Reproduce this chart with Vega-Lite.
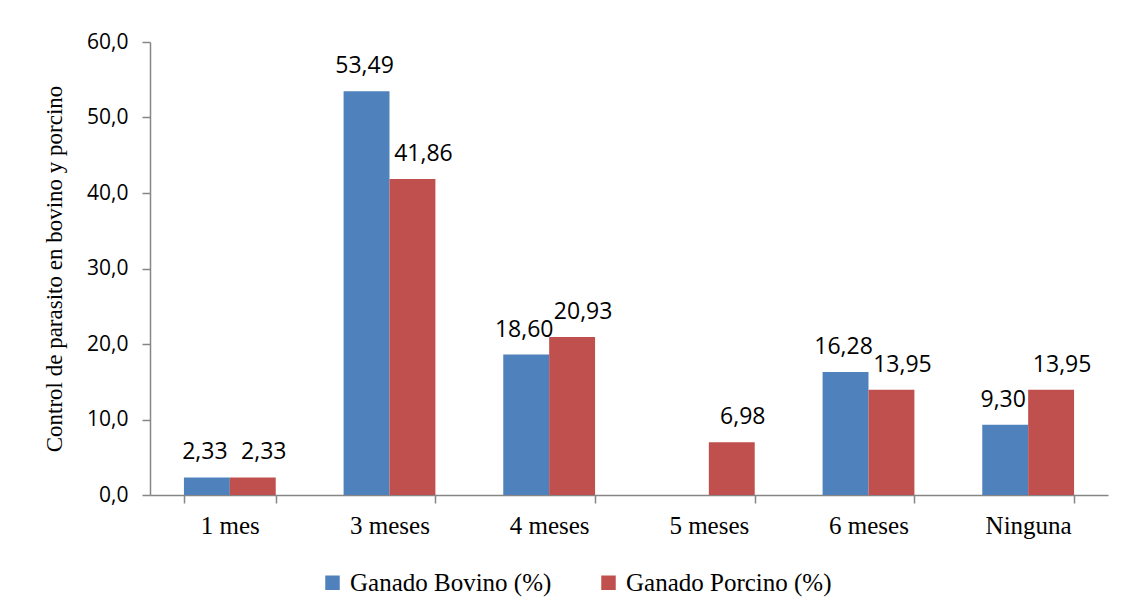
{
  "$schema": "https://vega.github.io/schema/vega-lite/v6.json",
  "autosize": {"type": "none"},
  "padding": {"left": 150, "top": 42, "right": 18, "bottom": 116},
  "width": 958,
  "height": 453,
  "background": "white",
  "config": {
    "view": {"stroke": null},
    "locale": {"number": {"decimal": ",", "thousands": ".", "grouping": [3], "currency": ["", ""]}},
    "axis": {"grid": false, "domainColor": "#868686", "tickColor": "#868686", "domainWidth": 1.5, "tickWidth": 1.5, "tickSize": 8, "labelColor": "black", "titleColor": "black"}
  },
  "data": {
    "values": [
      {"cat": "1 mes", "serie": "Ganado Bovino (%)", "valor": 2.33},
      {"cat": "1 mes", "serie": "Ganado Porcino (%)", "valor": 2.33},
      {"cat": "3 meses", "serie": "Ganado Bovino (%)", "valor": 53.49},
      {"cat": "3 meses", "serie": "Ganado Porcino (%)", "valor": 41.86},
      {"cat": "4 meses", "serie": "Ganado Bovino (%)", "valor": 18.60},
      {"cat": "4 meses", "serie": "Ganado Porcino (%)", "valor": 20.93},
      {"cat": "5 meses", "serie": "Ganado Bovino (%)", "valor": 0},
      {"cat": "5 meses", "serie": "Ganado Porcino (%)", "valor": 6.98},
      {"cat": "6 meses", "serie": "Ganado Bovino (%)", "valor": 16.28},
      {"cat": "6 meses", "serie": "Ganado Porcino (%)", "valor": 13.95},
      {"cat": "Ninguna", "serie": "Ganado Bovino (%)", "valor": 9.30},
      {"cat": "Ninguna", "serie": "Ganado Porcino (%)", "valor": 13.95}
    ]
  },
  "encoding": {
    "x": {
      "field": "cat", "type": "nominal", "sort": null,
      "scale": {"paddingInner": 0.425, "paddingOuter": 0.2125},
      "axis": {"title": null, "labelAngle": 0, "labelFont": "Liberation Serif", "labelFontSize": 25, "labelPadding": 10, "tickBand": "extent"}
    },
    "xOffset": {"field": "serie", "type": "nominal", "scale": {"paddingInner": 0, "paddingOuter": 0}},
    "y": {
      "field": "valor", "type": "quantitative",
      "scale": {"domain": [0, 60], "nice": false},
      "axis": {"values": [0, 10, 20, 30, 40, 50, 60], "format": ".1f", "labelFont": "Open Sans", "labelFontSize": 21, "labelPadding": 14,
        "title": "Control de parasito en  bovino y porcino", "titleFont": "Liberation Serif", "titleFontSize": 23, "titleFontWeight": "normal", "titlePadding": 20}
    }
  },
  "layer": [
    {
      "mark": {"type": "bar"},
      "encoding": {
        "color": {
          "field": "serie", "type": "nominal",
          "scale": {"range": ["#4F81BD", "#C0504D"]},
          "legend": {"title": null, "orient": "none", "legendX": 170, "legendY": 528, "direction": "horizontal",
            "symbolType": "square", "symbolSize": 210, "symbolStrokeWidth": 0, "labelFont": "Liberation Serif", "labelFontSize": 25, "labelColor": "black", "labelLimit": 400, "columnPadding": 44, "labelOffset": 5}
        }
      }
    },
    {
      "transform": [{"filter": "datum.valor > 0 && datum.serie == 'Ganado Bovino (%)'"}],
      "mark": {"type": "text", "baseline": "alphabetic", "dy": -18, "dx": -2, "font": "Open Sans", "fontSize": 23, "color": "black"},
      "encoding": {
        "text": {"field": "valor", "type": "quantitative", "format": ".2f"}
      }
    },
    {
      "transform": [{"filter": "datum.valor > 0 && datum.serie == 'Ganado Porcino (%)'"}],
      "mark": {"type": "text", "baseline": "alphabetic", "dy": -18, "dx": 11, "font": "Open Sans", "fontSize": 23, "color": "black"},
      "encoding": {
        "text": {"field": "valor", "type": "quantitative", "format": ".2f"}
      }
    }
  ]
}
